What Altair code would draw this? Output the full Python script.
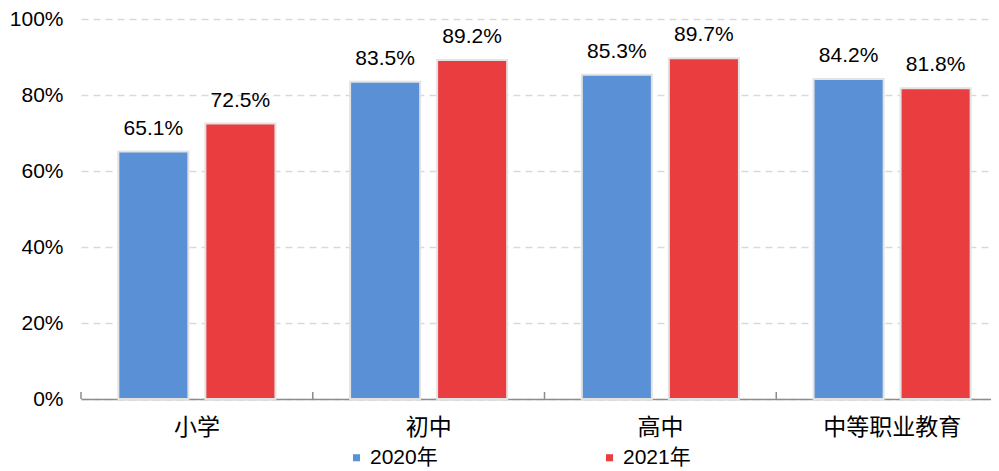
import altair as alt
import pandas as pd

categories = ["小学", "初中", "高中", "中等职业教育"]
years = ["2020年", "2021年"]
values_2020 = [65.1, 83.5, 85.3, 84.2]
values_2021 = [72.5, 89.2, 89.7, 81.8]
colors = ["#558ED5", "#E9373A"]

rows = []
for c, a, b in zip(categories, values_2020, values_2021):
    rows.append({"cat": c, "year": years[0], "v": a / 100, "label": f"{a:.1f}%"})
    rows.append({"cat": c, "year": years[1], "v": b / 100, "label": f"{b:.1f}%"})
df = pd.DataFrame(rows)
tick_df = pd.DataFrame({"cat": categories})

FONT = "Liberation Sans, Noto Sans CJK SC, sans-serif"

x = alt.X("cat:N", sort=categories, title=None,
          scale=alt.Scale(paddingInner=0, paddingOuter=0, range=[0, 927]),
          axis=alt.Axis(labelAngle=0, labelFontSize=23, labelColor="#000000",
                        labelFont=FONT, labelPadding=17, domainColor="#8c8c8c",
                        domainWidth=1.5, ticks=False, grid=False))
xo = alt.XOffset("year:N", sort=years,
                 scale=alt.Scale(paddingInner=0.195, paddingOuter=0.429))
y = alt.Y("v:Q", title=None,
          scale=alt.Scale(domain=[0, 1], nice=False),
          axis=alt.Axis(format=".0%", values=[0, 0.2, 0.4, 0.6, 0.8, 1.0],
                        labelFontSize=21, labelColor="#000000", labelFont=FONT,
                        labelPadding=18, ticks=False, domain=False,
                        gridColor="#d9d9d9", gridDash=[7, 5], gridWidth=1.5))

base = alt.Chart(df).encode(x=x, xOffset=xo, y=y)

bars = base.mark_bar(stroke="#e3e3e3", strokeWidth=2, opacity=0.97).encode(
    color=alt.Color("year:N", sort=years,
                    scale=alt.Scale(domain=years, range=colors),
                    legend=alt.Legend(title=None, orient="none", direction="horizontal",
                                      legendX=265, legendY=428,
                                      symbolType="square", symbolSize=50,
                                      symbolStrokeWidth=0, symbolOffset=0,
                                      labelFontSize=21, labelFont=FONT,
                                      labelColor="#000000", labelOffset=3,
                                      columnPadding=161))
)

labels = base.mark_text(baseline="bottom", dy=-13, fontSize=21, font=FONT,
                        color="#000000").encode(text="label:N")

ticks = alt.Chart(tick_df).mark_rule(color="#8c8c8c", strokeWidth=1.5).encode(
    x=alt.X("cat:N", sort=categories, bandPosition=0),
    y=alt.value(373), y2=alt.value(380))

chart = (bars + labels + ticks).properties(
    width=910, height=380,
    autosize=alt.AutoSizeParams(type="none"),
    padding={"left": 73, "top": 11, "right": 0, "bottom": 70}
).configure_view(stroke=None).configure_axisY(grid=True).configure_axisX(grid=False)

chart.save("out.html", embed_options={"renderer": "svg", "actions": False})
